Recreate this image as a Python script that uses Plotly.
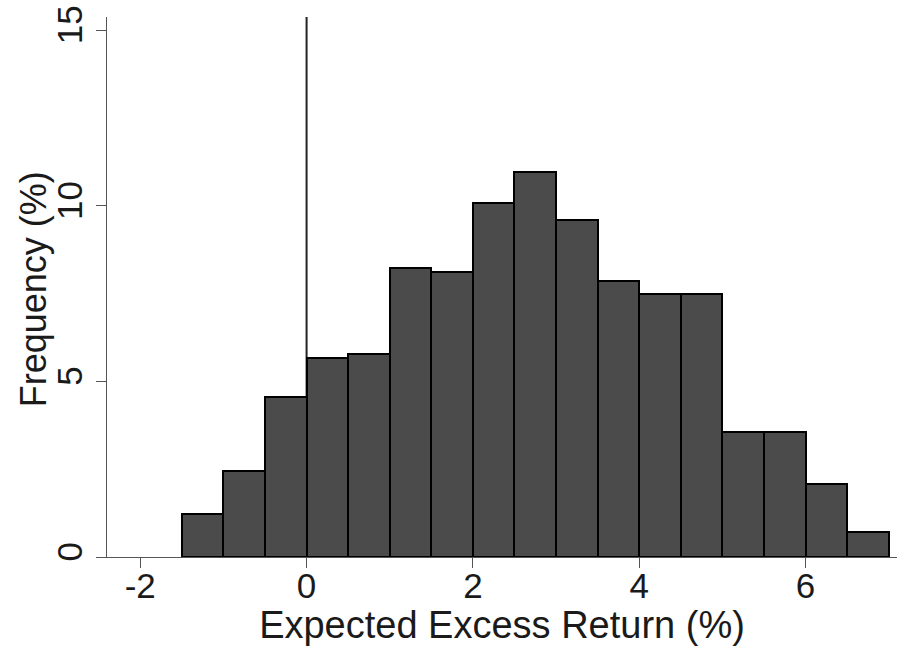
import plotly.graph_objects as go

# Histogram of expected excess returns: bin left edges (%) and frequencies (%)
bin_left = [-1.5, -1.0, -0.5, 0.0, 0.5, 1.0, 1.5, 2.0, 2.5, 3.0, 3.5, 4.0, 4.5, 5.0, 5.5, 6.0, 6.5]
bin_width = 0.5
frequency = [1.22, 2.46, 4.55, 5.66, 5.79, 8.23, 8.10, 10.08, 10.95, 9.60, 7.87, 7.50, 7.50, 3.57, 3.57, 2.07, 0.72]

x_ticks = [-2, 0, 2, 4, 6]
y_ticks = [0, 5, 10, 15]

font_family = "Liberation Sans, Arial, sans-serif"
text_color = "#1a1a1a"
axis_color = "#555555"

centers = [b + bin_width / 2 for b in bin_left]

fig = go.Figure()
fig.add_trace(go.Bar(
    x=centers,
    y=frequency,
    width=[bin_width] * len(bin_left),
    marker=dict(color="#4b4b4b", line=dict(color="#000000", width=2)),
    hoverinfo="x+y",
))

# reference line at zero excess return
fig.add_shape(type="line", xref="x", yref="paper", x0=0, x1=0, y0=0, y1=1,
              line=dict(color="#222222", width=2), layer="below")

# y-axis title placed as a rotated annotation for finer horizontal control
fig.add_annotation(text="Frequency (%)", xref="paper", yref="paper",
                   x=-0.093, y=0.495, xanchor="center", yanchor="middle",
                   textangle=-90, showarrow=False,
                   font=dict(size=36, family=font_family, color=text_color))

fig.update_layout(
    width=898, height=646,
    margin=dict(l=107, r=1, t=17, b=89, autoexpand=False),
    paper_bgcolor="white", plot_bgcolor="white",
    showlegend=False,
    bargap=0,
    font=dict(family=font_family, color=text_color, size=34),
    xaxis=dict(
        range=[-2.4, 7.1],
        tickvals=x_ticks,
        ticktext=[str(v) for v in x_ticks],
        showgrid=False, zeroline=False,
        showline=True, linecolor=axis_color, linewidth=1.3,
        ticks="outside", ticklen=10, tickwidth=1.3, tickcolor=axis_color,
        ticklabelstandoff=-12,
        tickfont=dict(size=35, family=font_family, color=text_color),
        automargin=False,
        title=dict(text="Expected Excess Return (%)", standoff=0,
                   font=dict(size=38, family=font_family, color=text_color)),
    ),
    yaxis=dict(
        range=[0, 15.37],
        tickvals=y_ticks,
        ticktext=[str(v) for v in y_ticks],
        tickangle=-90,
        showgrid=False, zeroline=False,
        showline=True, linecolor=axis_color, linewidth=1.3,
        ticks="outside", ticklen=10, tickwidth=1.3, tickcolor=axis_color,
        tickfont=dict(size=35, family=font_family, color=text_color),
        automargin=False,
    ),
)

fig.write_html("out.html")
